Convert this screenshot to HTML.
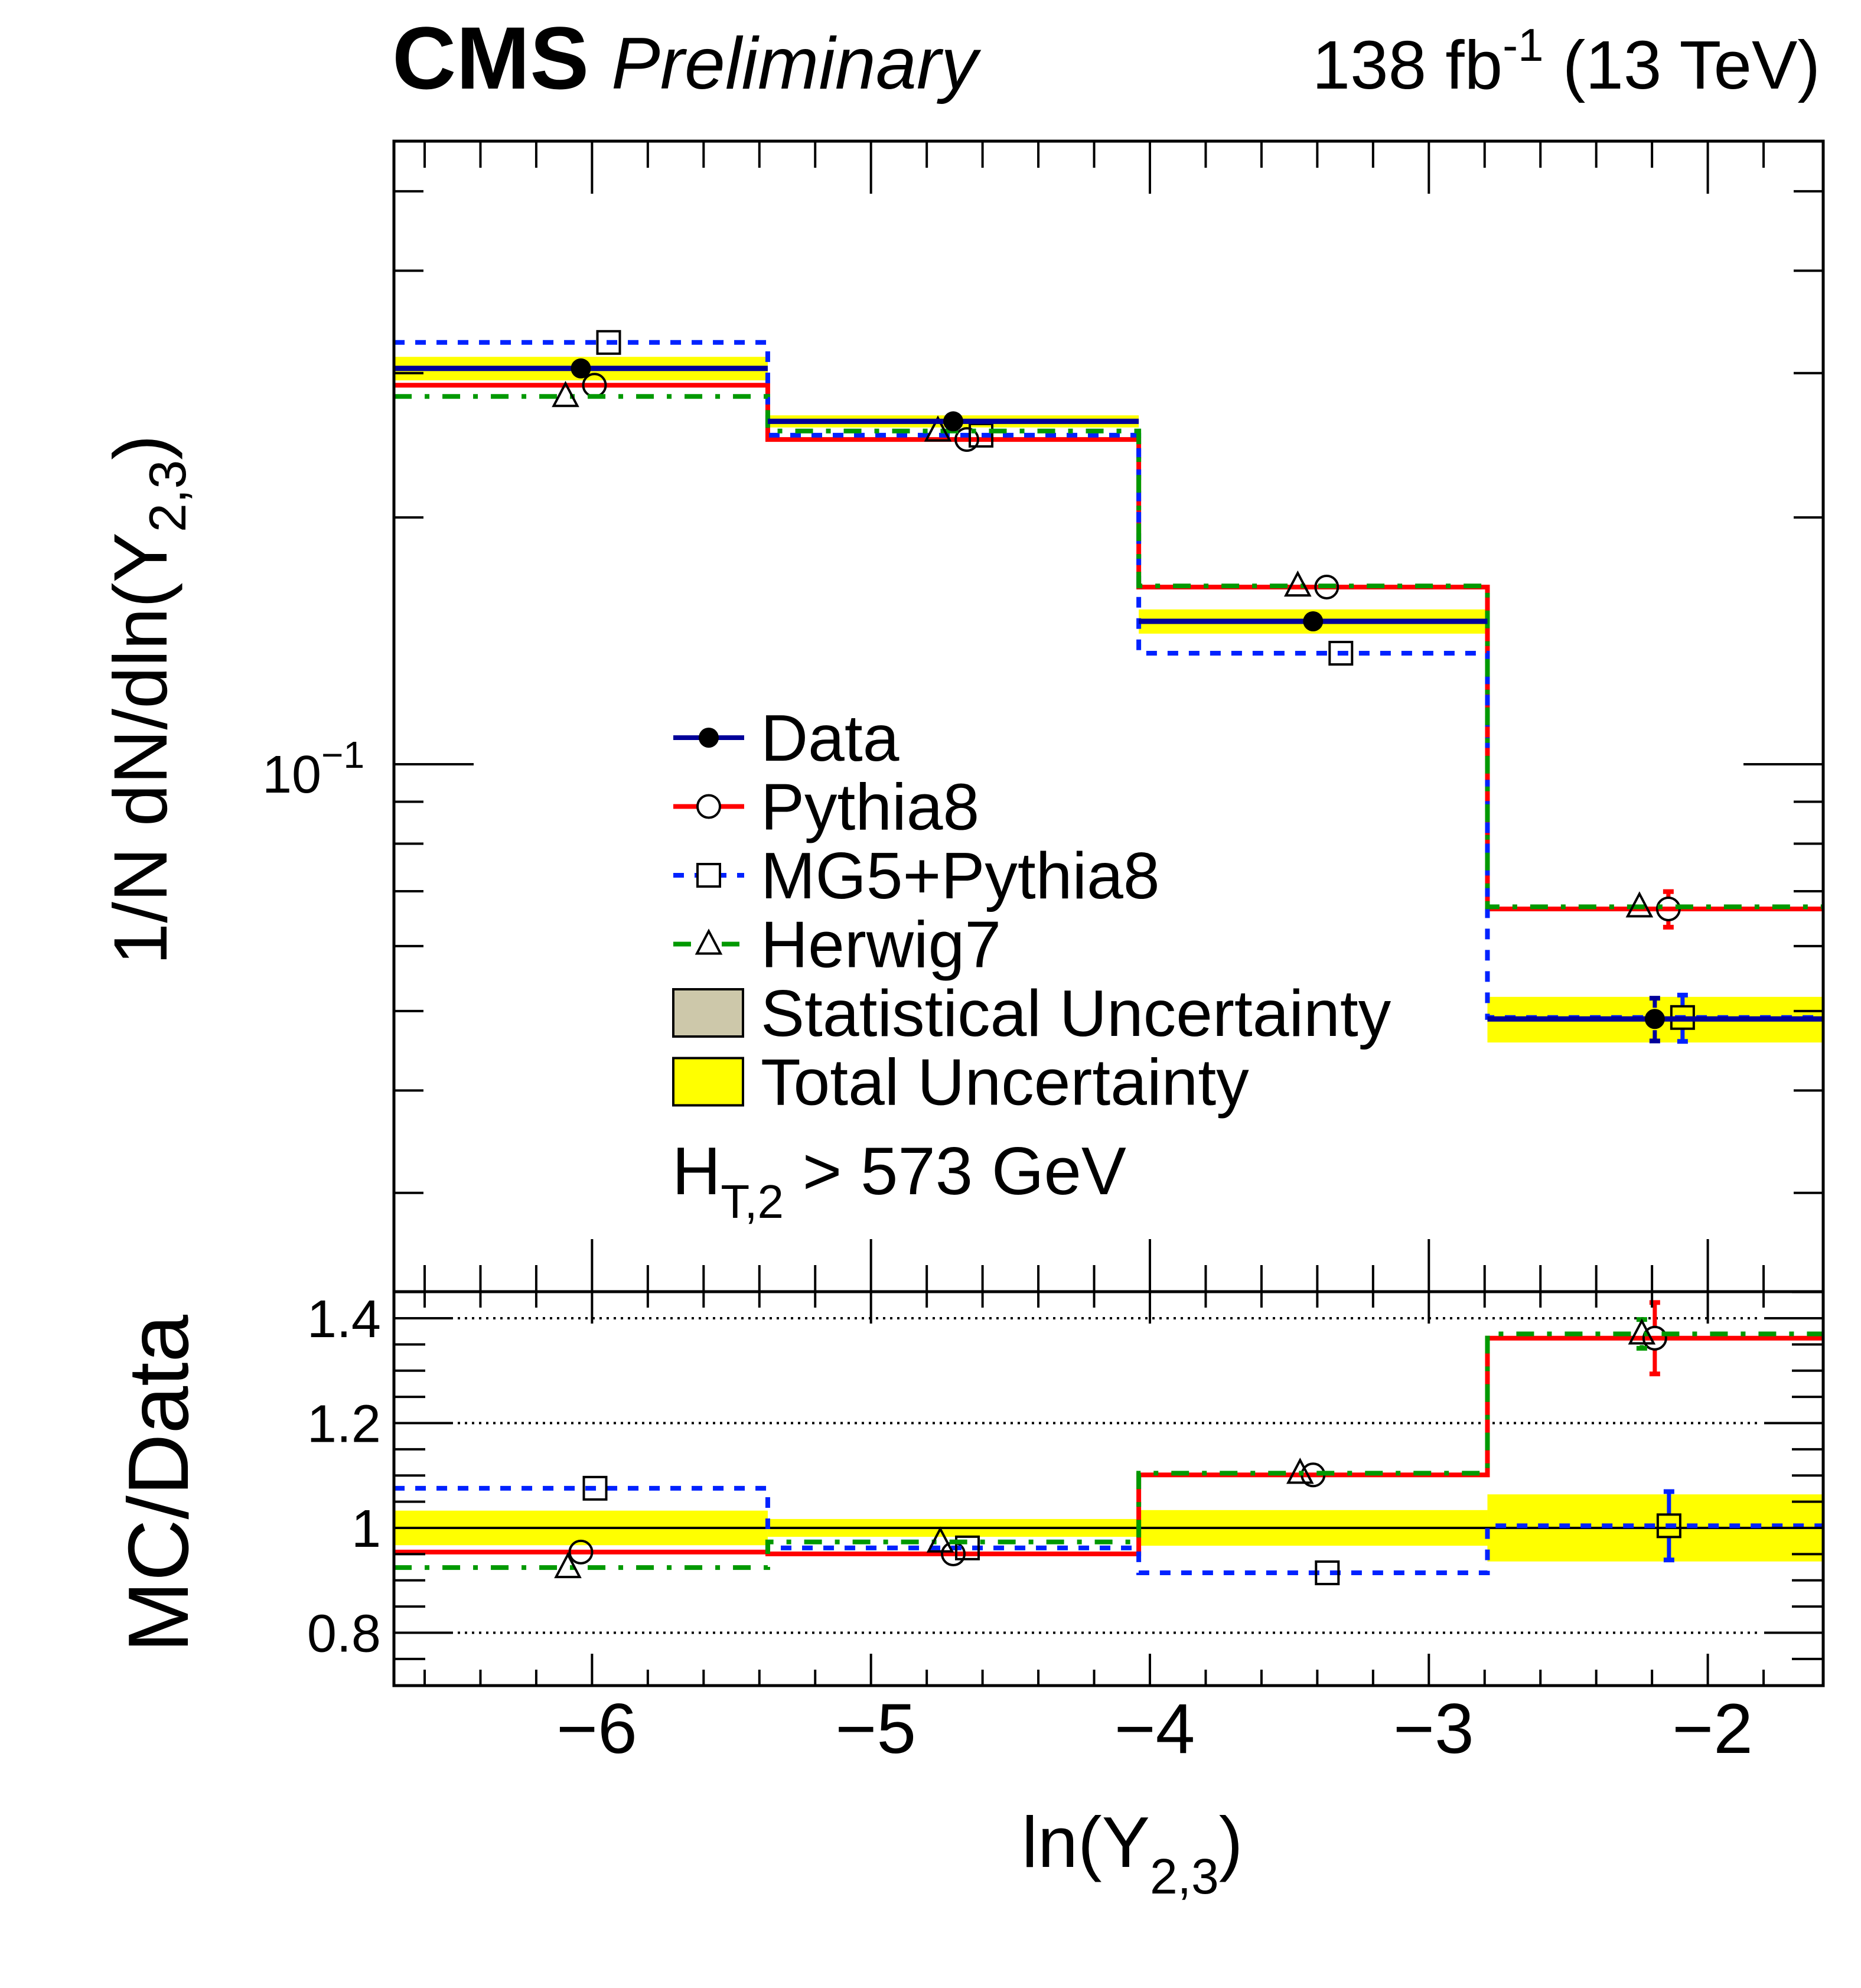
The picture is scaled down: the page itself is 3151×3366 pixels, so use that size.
<!DOCTYPE html>
<html><head><meta charset="utf-8"><style>
html,body{margin:0;padding:0;background:#fff;}
svg{display:block;font-family:"Liberation Sans",Arial,sans-serif;}
</style></head><body>
<svg id="chart" width="3151" height="3366" viewBox="0 0 3151 3366" xmlns="http://www.w3.org/2000/svg">
<rect x="0" y="0" width="3151" height="3366" fill="#fff"/>
<text x="664" y="150" font-size="150" font-weight="bold">CMS</text>
<text x="1035" y="150" font-size="124" font-style="italic">Preliminary</text>
<text x="3082" y="150" font-size="116" text-anchor="end">138 fb<tspan dy="-47" font-size="78">-1</tspan><tspan dy="47"> (13 TeV)</tspan></text>
<g id="upper"></g>
<g id="lower"></g>
<g id="legend"></g>
<text transform="translate(282,1185) rotate(-90)" font-size="128" text-anchor="middle">1/N dN/dln(Y<tspan dy="32" font-size="88">2,3</tspan><tspan dy="-32">)</tspan></text>
<text transform="translate(318,2512) rotate(-90)" font-size="145" text-anchor="middle">MC/Data</text>
<text x="1730" y="3161" font-size="122">ln(Y<tspan dy="45" font-size="84">2,3</tspan><tspan dy="-45">)</tspan></text>
<text x="1138" y="2022" font-size="114">H<tspan dy="40" font-size="80">T,2</tspan><tspan dy="-40"> &gt; 573 GeV</tspan></text>
</svg>
<script>
const binEdges=[-6.71,-5.37,-4.04,-2.79,-1.59];
const dataVals=[0.304,0.262,0.1494,0.0489];
const dataErr=[0.015,0.01,0.02,0.06];
const totUnc=[0.033,0.017,0.034,0.064];
const pythiaVals=[0.290,0.249,0.1645,0.0666];
const pythiaErr=[0.02,0.005,0.015,0.05];
const mg5Vals=[0.327,0.252,0.1366,0.0491];
const mg5Err=[0.005,0.005,0.02,0.065];
const herwigVals=[0.281,0.255,0.1650,0.0670];
const herwigErr=[0.005,0.005,0.01,0.02];
const xTicks=[-6,-5,-4,-3,-2];
const xTickLabels=["\u22126","\u22125","\u22124","\u22123","\u22122"];
const ratioTicks=[0.8,1.0,1.2,1.4];
const ratioTickLabels=["0.8","1","1.2","1.4"];

const NS="http://www.w3.org/2000/svg";
const L=667,R=3087,UT=239,UB=2187,LT=2187,LB=2854;
function X(v){return 1947+(v+4)*472.3;}
function YU(v){return 1294-Math.log10(v/0.1)*1388;}
function YR(r){return 2587-(r-1)*887.5;}
function mk(parent,tag,attrs){const e=document.createElementNS(NS,tag);for(const k in attrs)e.setAttribute(k,attrs[k]);parent.appendChild(e);return e;}
const up=document.getElementById('upper'),lo=document.getElementById('lower'),lg=document.getElementById('legend');

for(let i=0;i<4;i++){
  const x0=X(binEdges[i]),x1=X(binEdges[i+1]);
  let b=mk(up,'rect',{x:x0,y:YU(dataVals[i]*(1+totUnc[i])),width:x1-x0,height:YU(dataVals[i]*(1-totUnc[i]))-YU(dataVals[i]*(1+totUnc[i])),fill:'#ffff00'});
  
  
  let c=mk(lo,'rect',{x:x0,y:YR(1+totUnc[i]),width:x1-x0,height:YR(1-totUnc[i])-YR(1+totUnc[i]),fill:'#ffff00'});
  
  
}
ratioTicks.forEach(r=>{
  if(r===1.0)return;
  let g=mk(lo,'line',{x1:775,x2:2975,y1:YR(r),y2:YR(r),stroke:'#000','stroke-width':4,'stroke-dasharray':'4 8'});
  
  
});
let one=mk(lo,'line',{x1:L,x2:R,y1:YR(1),y2:YR(1),stroke:'#000','stroke-width':4});



function stepPath(vals,yf){
  let d='';
  for(let i=0;i<4;i++){
    const y=yf(vals[i]);
    d+=(i===0?'M':'L')+X(binEdges[i])+','+y+' L'+X(binEdges[i+1])+','+y+' ';
  }
  return d;
}
const series=[
  {name:'pythia8',vals:pythiaVals,err:pythiaErr,color:'#ff0000',dash:'',off:23,roff:0,mark:'circle'},
  {name:'mg5-pythia8',vals:mg5Vals,err:mg5Err,color:'#0022ff',dash:'18 18',off:47,roff:24,mark:'square'},
  {name:'herwig7',vals:herwigVals,err:herwigErr,color:'#009900',dash:'30 22 8 22',off:-26,roff:-22,mark:'triangle'}
];
function marker(parent,type,cx,cy){
  let e;
  if(type==='circle')e=mk(parent,'circle',{cx:cx,cy:cy,r:19,fill:'none',stroke:'#000','stroke-width':4});
  else if(type==='square')e=mk(parent,'rect',{x:cx-19,y:cy-19,width:38,height:38,fill:'none',stroke:'#000','stroke-width':4});
  else if(type==='triangle')e=mk(parent,'polygon',{points:(cx)+','+(cy-22)+' '+(cx-20)+','+(cy+16)+' '+(cx+20)+','+(cy+16),fill:'none',stroke:'#000','stroke-width':4});
  else e=mk(parent,'circle',{cx:cx,cy:cy,r:17,fill:'#000'});
  return e;
}
function errBar(parent,cx,cy,yTop,yBot,color,name){
  const g=mk(parent,'g',{});
  
  
  const gap=19;
  if(cy-yTop>gap){mk(g,'line',{x1:cx,x2:cx,y1:yTop,y2:cy-gap,stroke:color,'stroke-width':7});}
  if(yBot-cy>gap){mk(g,'line',{x1:cx,x2:cx,y1:cy+gap,y2:yBot,stroke:color,'stroke-width':7});}
  if(cy-yTop>gap+4){
    mk(g,'line',{x1:cx-9,x2:cx+9,y1:yTop,y2:yTop,stroke:color,'stroke-width':8});
    mk(g,'line',{x1:cx-9,x2:cx+9,y1:yBot,y2:yBot,stroke:color,'stroke-width':8});
  }
}
series.forEach(s=>{
  let p=mk(up,'path',{d:stepPath(s.vals,YU),fill:'none',stroke:s.color,'stroke-width':8,'stroke-dasharray':s.dash});
  
  
  const ratios=s.vals.map((v,i)=>v/dataVals[i]);
  let q=mk(lo,'path',{d:stepPath(ratios,YR),fill:'none',stroke:s.color,'stroke-width':8,'stroke-dasharray':s.dash});
  
  
  for(let i=0;i<4;i++){
    const cx=X((binEdges[i]+binEdges[i+1])/2);
    const v=s.vals[i];
    errBar(up,cx+s.off,YU(v),YU(v*(1+s.err[i])),YU(v*(1-s.err[i])),s.color,s.name+'-error-bar');
    let m=marker(up,s.mark,cx+s.off,YU(v));
    
    
    const r=ratios[i];
    errBar(lo,cx+s.roff,YR(r),YR(r+r*s.err[i]),YR(r-r*s.err[i]),s.color,s.name+'-ratio-error-bar');
    let m2=marker(lo,s.mark,cx+s.roff,YR(r));
    
    
  }
});
for(let i=0;i<4;i++){
  const x0=X(binEdges[i]),x1=X(binEdges[i+1]),cx=X((binEdges[i]+binEdges[i+1])/2),y=YU(dataVals[i]);
  let h=mk(up,'line',{x1:x0,x2:x1,y1:y,y2:y,stroke:'#000099','stroke-width':9});
  
  
  errBar(up,cx,y,YU(dataVals[i]*(1+dataErr[i])),YU(dataVals[i]*(1-dataErr[i])),'#000099','data-error-bar');
  let m=marker(up,'dot',cx,y);
  
  
}
function frame(parent,t,b,name){
  let f=mk(parent,'rect',{x:L,y:t,width:R-L,height:b-t,fill:'none',stroke:'#000','stroke-width':5});
  
  
}
frame(up,UT,UB,'upper-frame');frame(lo,LT,LB,'ratio-frame');
function tick(parent,x1,y1,x2,y2,name){
  let t=mk(parent,'line',{x1:x1,y1:y1,x2:x2,y2:y2,stroke:'#000','stroke-width':4});
  
  
}
for(let v=-6.6;v<=-1.6;v+=0.2){
  const vv=Math.round(v*10)/10,x=X(vv),maj=Math.abs(vv-Math.round(vv))<1e-6;
  tick(up,x,UT,x,UT+(maj?89:45),'x-tick');
  tick(up,x,UB,x,UB-(maj?89:45),'x-tick');
  tick(lo,x,LT,x,LT+(maj?54:27),'ratio-x-tick');
  tick(lo,x,LB,x,LB-(maj?54:27),'ratio-x-tick');
}
const minorY=[0.03,0.04,0.05,0.06,0.07,0.08,0.09,0.2,0.3,0.4,0.5];
minorY.forEach(v=>{const y=YU(v);tick(up,L,y,L+50,y,'y-tick');tick(up,R,y,R-50,y,'y-tick');});
tick(up,L,YU(0.1),L+135,YU(0.1),'y-tick-major');tick(up,R,YU(0.1),R-135,YU(0.1),'y-tick-major');
let yl=mk(up,'text',{x:444,y:1342,'font-size':90});


yl.innerHTML='10<tspan dy="-42" font-size="64">\u22121</tspan>';
for(let r=0.75;r<=1.451;r+=0.05){
  const rr=Math.round(r*100)/100,y=YR(rr),maj=ratioTicks.some(t=>Math.abs(t-rr)<1e-6);
  tick(lo,L,y,L+(maj?100:53),y,'ratio-y-tick');tick(lo,R,y,R-(maj?100:53),y,'ratio-y-tick');
}
ratioTicks.forEach((r,i)=>{
  let t=mk(lo,'text',{x:645,y:YR(r)+32,'font-size':90,'text-anchor':'end'});
  
  
  t.textContent=ratioTickLabels[i];
});
xTicks.forEach((v,i)=>{
  let t=mk(lo,'text',{x:X(v)+8,y:2968,'font-size':120,'text-anchor':'middle'});
  
  
  t.textContent=xTickLabels[i];
});
const legItems=[
  {label:'Data',color:'#000099',dash:'',mark:'dot'},
  {label:'Pythia8',color:'#ff0000',dash:'',mark:'circle'},
  {label:'MG5+Pythia8',color:'#0022ff',dash:'18 18',mark:'square'},
  {label:'Herwig7',color:'#009900',dash:'30 22 8 22',mark:'triangle'},
  {label:'Statistical Uncertainty',box:'#cdc8aa'},
  {label:'Total Uncertainty',box:'#ffff00'}
];
legItems.forEach((it,i)=>{
  const y=1249+i*116.5;
  const g=mk(lg,'g',{});
  
  
  if(it.box){mk(g,'rect',{x:1140,y:y-40,width:118,height:80,fill:it.box,stroke:'#000','stroke-width':4});}
  else{
    mk(g,'line',{x1:1140,x2:1260,y1:y,y2:y,stroke:it.color,'stroke-width':8,'stroke-dasharray':it.dash});
    const m=marker(g,it.mark,1200,y);
    if(it.mark!=='dot')m.setAttribute('fill','#fff');
  }
  const t=mk(g,'text',{x:1288,y:y+39,'font-size':111});
  t.textContent=it.label;
});
</script>
</body></html>
